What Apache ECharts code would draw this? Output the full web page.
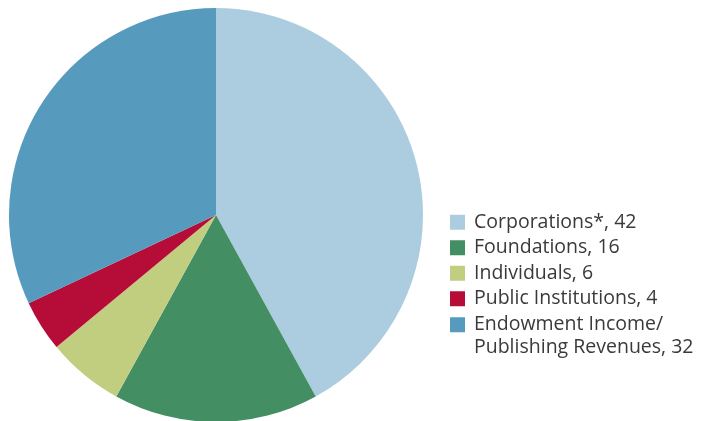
<!DOCTYPE html>
<html>
<head>
<meta charset="utf-8">
<script src="https://cdn.jsdelivr.net/npm/echarts@6/dist/echarts.min.js"></script>
<style>
  html, body { margin: 0; padding: 0; background: #ffffff; }
  #chart { width: 702px; height: 421px; }
</style>
</head>
<body>
<div id="chart"></div>
<script>
// Revenue sources (percent of total)
const categories = [
  'Corporations*',
  'Foundations',
  'Individuals',
  'Public Institutions',
  'Endowment Income/\nPublishing Revenues'
];
const values = [42, 16, 6, 4, 32];
const colors = ['#abcddf', '#438e62', '#c1ce80', '#b50c38', '#569bbe'];

const pieData = categories.map((name, i) => ({
  name: name,
  value: values[i],
  itemStyle: { color: colors[i] }
}));

const single = categories.filter(n => n.indexOf('\n') < 0);
const multi = categories.filter(n => n.indexOf('\n') >= 0);

const legendText = {
  fontFamily: 'Open Sans',
  fontSize: 19.5,
  lineHeight: 22.5,
  color: '#3a3a3a',
  padding: [0, 0, 0, 4]
};

function labelFor(name) {
  return name + ', ' + values[categories.indexOf(name)];
}

const legendBase = {
  orient: 'vertical',
  left: 450,
  padding: 0,
  itemWidth: 15,
  itemHeight: 15,
  itemGap: 3,
  icon: 'rect',
  selectedMode: false,
  textStyle: legendText
};

const chart = echarts.init(document.getElementById('chart'));
chart.setOption({
  animation: false,
  legend: [
    Object.assign({}, legendBase, {
      top: 211,
      data: single,
      formatter: labelFor
    }),
    // Two-line entry: a leading blank line keeps the first text line level with the swatch
    Object.assign({}, legendBase, {
      top: 291,
      data: multi,
      formatter: function (name) { return '\n' + labelFor(name); }
    })
  ],
  series: [{
    type: 'pie',
    center: [216, 215],
    radius: 207,
    startAngle: 90,
    clockwise: true,
    label: { show: false },
    labelLine: { show: false },
    emphasis: { disabled: true },
    itemStyle: { borderWidth: 0 },
    data: pieData
  }]
});
</script>
</body>
</html>
